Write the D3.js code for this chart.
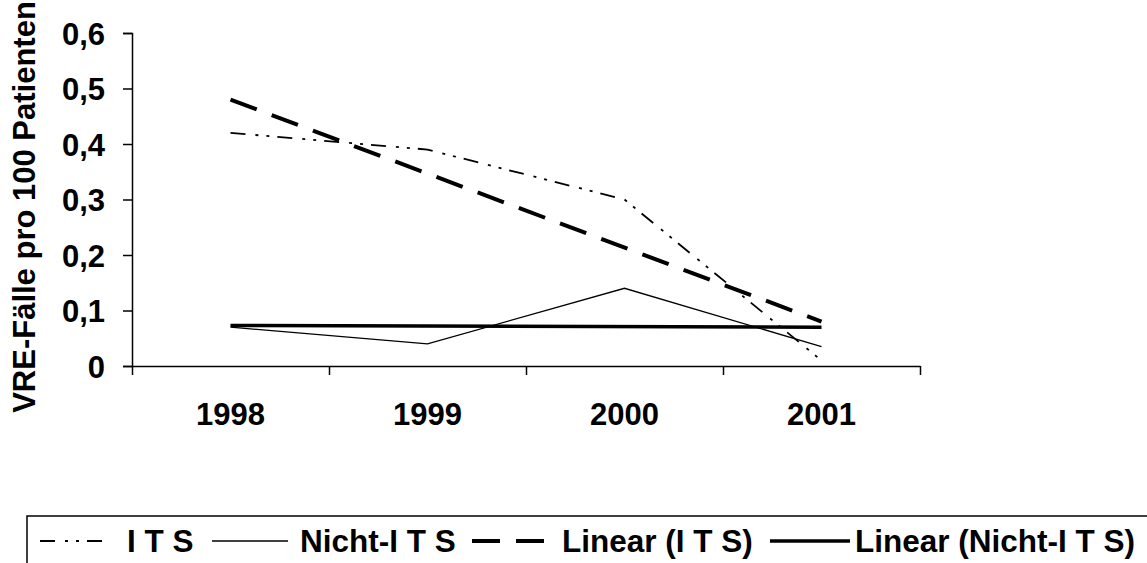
<!DOCTYPE html>
<html>
<head>
<meta charset="utf-8">
<script src="https://cdn.jsdelivr.net/npm/d3@7"></script>
<style>
  body { margin: 0; background: #fff; }
  text { font-family: "Liberation Sans", Arial, sans-serif; font-weight: bold; fill: #000; }
</style>
</head>
<body>
<svg></svg>
<script>
const YEARS = ['1998', '1999', '2000', '2001'];
const ITS = [0.42, 0.39, 0.30, 0.01];
const NICHT_ITS = [0.07, 0.04, 0.14, 0.035];
// trend lines as drawn, first and last year
const LIN_ITS = [0.48, 0.08];
const LIN_NICHT_ITS = [0.073, 0.070];
const Y_TICKS = [0, 0.1, 0.2, 0.3, 0.4, 0.5, 0.6];

const WIDTH = 1147;
const HEIGHT = 563;
const LEFT = 132, RIGHT = 920, TOP = 33, BOTTOM = 366;
const FONT = 31;

const svg = d3.select('svg')
              .attr('width', WIDTH)
              .attr('height', HEIGHT);

const x = d3.scaleBand().domain(YEARS).range([LEFT, RIGHT]).padding(0);
const xEdge = d3.scaleLinear().domain([0, YEARS.length]).range([LEFT, RIGHT]);
const y = d3.scaleLinear().domain([0, 0.6]).range([BOTTOM, TOP]);
const cx = d => x(d) + x.bandwidth() / 2;

// y axis
const yAxis = svg.append('g')
  .attr('transform', `translate(${LEFT},0)`)
  .call(d3.axisLeft(y).tickValues(Y_TICKS).tickSize(9).tickPadding(18)
          .tickFormat(d => d3.format('.1f')(d).replace('.', ',').replace(/^0,0$/, '0')));
yAxis.select('.domain').attr('stroke-width', 1.5);
yAxis.selectAll('line').attr('stroke-width', 1.5);
yAxis.selectAll('text').attr('font-size', FONT).attr('dy', '0.36em');

// x axis
const xAxis = svg.append('g')
  .attr('transform', `translate(0,${BOTTOM})`)
  .call(d3.axisBottom(xEdge).tickValues(d3.range(YEARS.length + 1)).tickSize(9).tickSizeOuter(0).tickFormat(''));
xAxis.select('.domain').attr('stroke-width', 1.5);
xAxis.selectAll('line').attr('stroke-width', 1.5);

svg.append('g').selectAll('text').data(YEARS).enter().append('text')
  .attr('x', d => cx(d))
  .attr('y', 425)
  .attr('text-anchor', 'middle')
  .attr('font-size', FONT)
  .text(d => d);

// y title
svg.append('text')
  .attr('transform', 'translate(35,207) rotate(-90)')
  .attr('text-anchor', 'middle')
  .attr('font-size', FONT)
  .text('VRE-Fälle pro 100 Patienten');

const line = d3.line().x(d => d[0]).y(d => y(d[1]));
const first = YEARS[0], last = YEARS[YEARS.length - 1];

const series = [
  { name: 'I T S', pts: YEARS.map((yr, i) => [cx(yr), ITS[i]]), width: 1.8, dash: '15,10,3,8,3,8' },
  { name: 'Nicht-I T S', pts: YEARS.map((yr, i) => [cx(yr), NICHT_ITS[i]]), width: 1.3, dash: null },
  { name: 'Linear (I T S)', pts: [[cx(first), LIN_ITS[0]], [cx(last), LIN_ITS[1]]], width: 4, dash: '28,16' },
  { name: 'Linear (Nicht-I T S)', pts: [[cx(first), LIN_NICHT_ITS[0]], [cx(last), LIN_NICHT_ITS[1]]], width: 3.5, dash: null }
];

svg.append('g').selectAll('path').data(series).enter().append('path')
  .attr('d', d => line(d.pts))
  .attr('fill', 'none')
  .attr('stroke', '#000')
  .attr('stroke-width', d => d.width)
  .attr('stroke-dasharray', d => d.dash);

// legend
const legend = svg.append('g');
legend.append('rect')
  .attr('x', 27).attr('y', 516)
  .attr('width', 1200).attr('height', 80)
  .attr('fill', 'none').attr('stroke', '#000').attr('stroke-width', 1.5);

const LEG_LINE = [[40, 112], [212, 288], [472, 545], [770, 850]];
const LEG_TEXT = [127, 300, 562, 855];

const item = legend.selectAll('g.item').data(series).enter().append('g').attr('class', 'item');
item.append('line')
  .attr('x1', (d, i) => LEG_LINE[i][0]).attr('x2', (d, i) => LEG_LINE[i][1])
  .attr('y1', 541).attr('y2', 541)
  .attr('stroke', '#000')
  .attr('stroke-width', d => d.width)
  .attr('stroke-dasharray', d => d.dash);
item.append('text')
  .attr('x', (d, i) => LEG_TEXT[i])
  .attr('y', 552)
  .attr('font-size', 31.5)
  .text(d => d.name);
</script>
</body>
</html>
